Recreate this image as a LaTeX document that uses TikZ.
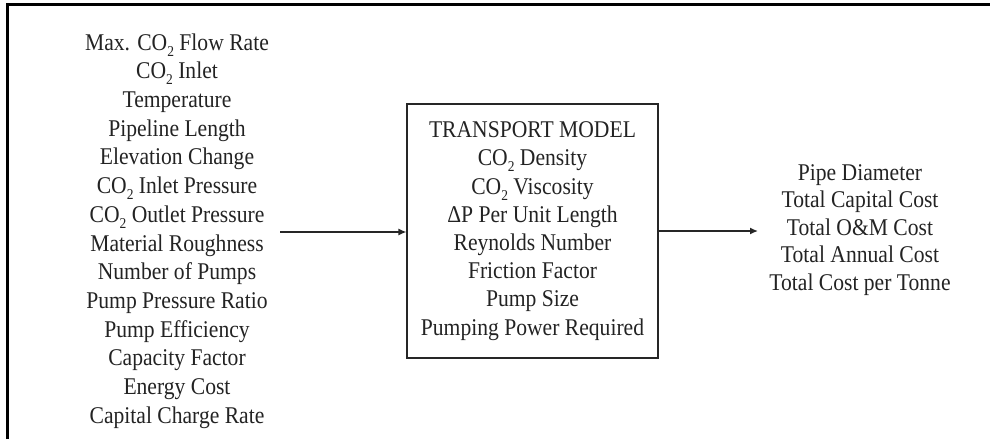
\documentclass[tikz,border=0pt]{standalone}
\usepackage{fontspec}
\setmainfont{Liberation Serif}[FakeStretch=0.9]
\usetikzlibrary{arrows.meta}
\definecolor{txt}{RGB}{35,35,35}
\newcommand{\cotwo}{CO\raisebox{-0.55ex}{\fontsize{15}{15}\selectfont 2}}
\tikzset{
  col/.style={align=center, inner sep=0pt, text=txt},
  modelbox/.style={draw=black!85, line width=1.1pt, minimum width=251pt, minimum height=254pt, align=center, inner sep=0pt, text=txt},
  conn/.style={draw=black!85, line width=1.4pt, -{Latex[length=8pt,width=7pt]}},
  frameline/.style={line width=2.5pt, black}
}
\begin{document}
\begin{tikzpicture}[x=1pt,y=1pt]
\useasboundingbox (0,0) rectangle (990,-439);
% frame
\draw[frameline] (7.5,-439) -- (7.5,-4.5) -- (990,-4.5);
% left inputs
\node[col, font={\fontsize{24}{28.7}\selectfont}] (inputs) at (177,-231)
 {Max. \cotwo{} Flow Rate\\ \cotwo{} Inlet\\ Temperature\\ Pipeline Length\\ Elevation Change\\ \cotwo{} Inlet Pressure\\ \cotwo{} Outlet Pressure\\ Material Roughness\\ Number of Pumps\\ Pump Pressure Ratio\\ Pump Efficiency\\ Capacity Factor\\ Energy Cost\\ Capital Charge Rate};
% model box
\node[modelbox, font={\fontsize{24}{28.2}\selectfont}] (model) at (532.5,-231)
 {TRANSPORT MODEL\\ \cotwo{} Density\\ \cotwo{} Viscosity\\ ΔP Per Unit Length\\ Reynolds Number\\ Friction Factor\\ Pump Size\\ Pumping Power Required};
% outputs
\node[col, font={\fontsize{24}{27.5}\selectfont}] (outputs) at (860,-230)
 {Pipe Diameter\\ Total Capital Cost\\ Total O\&M Cost\\ Total Annual Cost\\ Total Cost per Tonne};
% connectors
\coordinate (ls) at (280,-232);
\coordinate (re) at (758,-231);
\draw[conn] (ls) -- (ls -| model.west);
\draw[conn] (model.east |- re) -- (re);
\end{tikzpicture}
\end{document}
